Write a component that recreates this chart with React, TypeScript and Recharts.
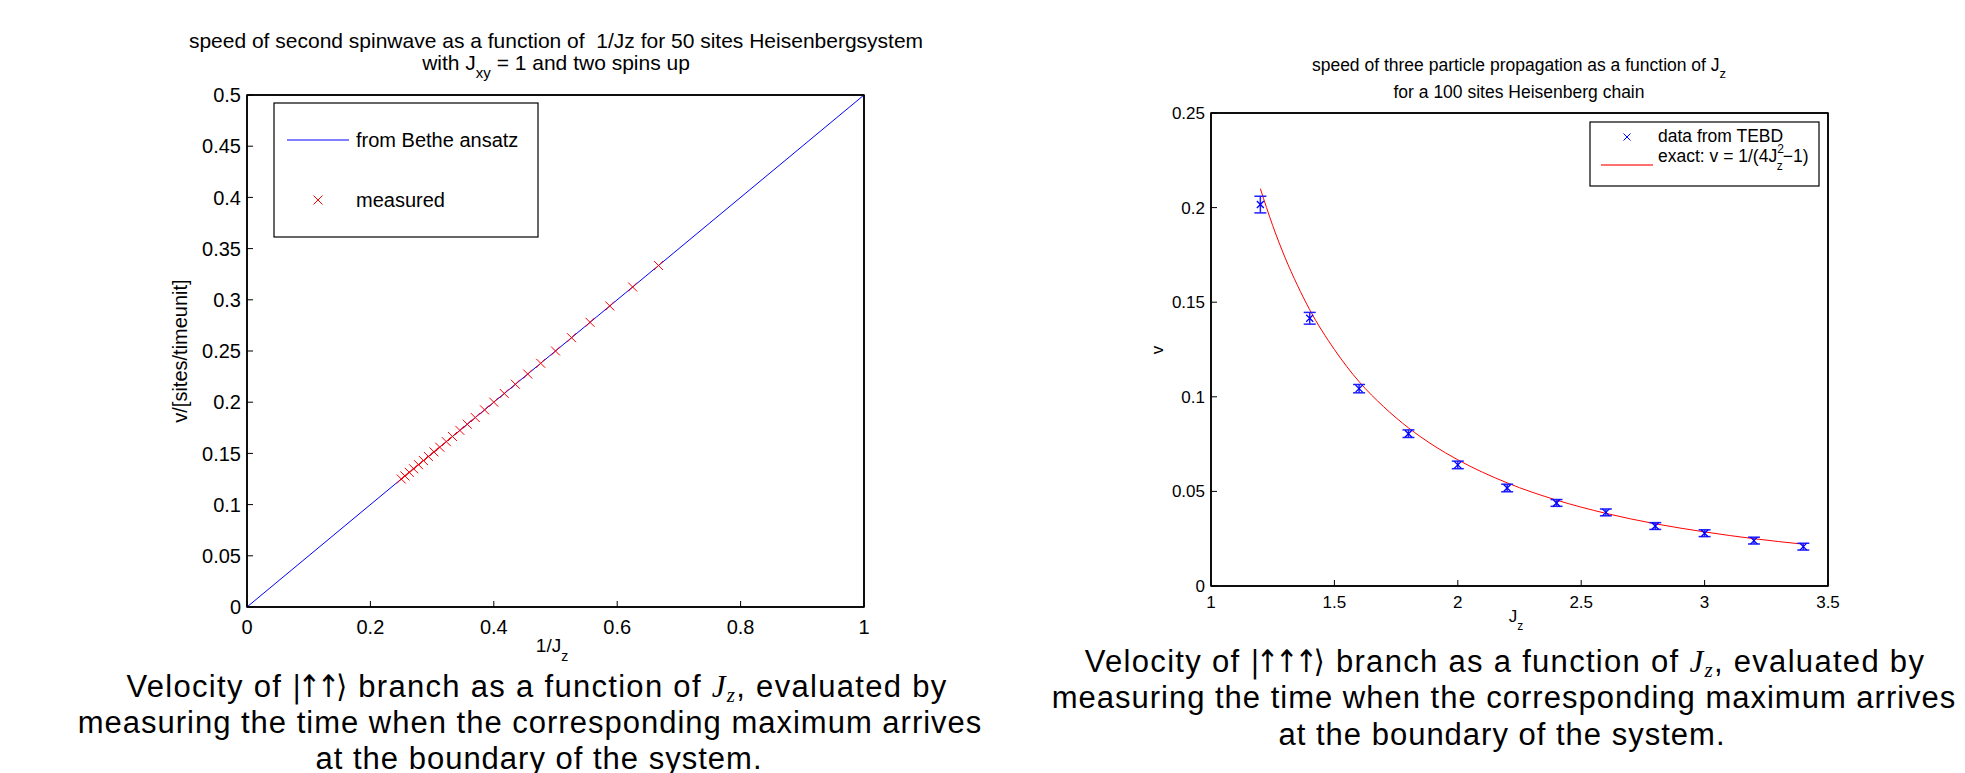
import { ComposedChart, Line, Scatter, XAxis, YAxis, ErrorBar, ReferenceArea } from 'recharts';

const FONT = '"Liberation Sans", Arial, Helvetica, sans-serif';
const SERIF = '"Liberation Serif", "DejaVu Serif", serif';
const ARROWS = '"DejaVu Sans Condensed", "DejaVu Sans", sans-serif';

// left chart: speed of second spinwave vs 1/Jz
const leftXTicks = [0, 0.2, 0.4, 0.6, 0.8, 1];
const leftYTicks = [0, 0.05, 0.1, 0.15, 0.2, 0.25, 0.3, 0.35, 0.4, 0.45, 0.5];
const betheX = [0, 1];
const betheV = [0, 0.5];
const measuredX = [
  0.25, 0.256, 0.263, 0.27, 0.278, 0.286, 0.294, 0.303, 0.3125, 0.323, 0.333, 0.345, 0.357,
  0.37, 0.385, 0.4, 0.417, 0.435, 0.455, 0.476, 0.5, 0.526, 0.556, 0.588, 0.625, 0.667,
];
const measuredV = [
  0.125, 0.128, 0.1315, 0.135, 0.139, 0.143, 0.147, 0.1515, 0.156, 0.1615, 0.1665, 0.1725, 0.1785,
  0.185, 0.1925, 0.2, 0.2085, 0.2175, 0.2275, 0.238, 0.25, 0.263, 0.278, 0.294, 0.3125, 0.3335,
];

// right chart: three particle propagation vs Jz
const rightXTicks = [1, 1.5, 2, 2.5, 3, 3.5];
const rightYTicks = [0, 0.05, 0.1, 0.15, 0.2, 0.25];
const tebdJz = [1.2, 1.4, 1.6, 1.8, 2.0, 2.2, 2.4, 2.6, 2.8, 3.0, 3.2, 3.4];
const tebdV = [0.2016, 0.1415, 0.1043, 0.0805, 0.064, 0.0518, 0.0439, 0.0389, 0.0317, 0.0279, 0.024, 0.0208];
const tebdErr = [0.0044, 0.0031, 0.0022, 0.002, 0.002, 0.002, 0.0018, 0.0018, 0.0018, 0.0018, 0.0018, 0.0018];
const exactJz = [1.2, 1.25, 1.3, 1.35, 1.4, 1.5, 1.6, 1.7, 1.8, 1.9, 2.0, 2.2, 2.4, 2.6, 2.8, 3.0, 3.2, 3.4];
const exactV = [
  0.21, 0.1905, 0.1736, 0.159, 0.146, 0.125, 0.108, 0.0947, 0.0836, 0.0744, 0.0667, 0.0545, 0.0454,
  0.0384, 0.0329, 0.0286, 0.025, 0.0221,
];

const betheData = betheX.map((x, i) => ({ x, v: betheV[i] }));
const measuredData = measuredX.map((x, i) => ({ x, v: measuredV[i] }));
const tebdData = tebdJz.map((x, i) => ({ x, v: tebdV[i], err: tebdErr[i] }));
const exactData = exactJz.map((x, i) => ({ x, v: exactV[i] }));

const frame = { stroke: '#000', strokeWidth: 1.5 };
const tickLine = { stroke: '#000', strokeWidth: 1 };

const cross = (half: number, color: string, w = 1) => (props: any) => {
  const { cx, cy } = props;
  if (cx == null || cy == null) return <g />;
  return (
    <path
      d={`M${cx - half},${cy - half}L${cx + half},${cy + half}M${cx - half},${cy + half}L${cx + half},${cy - half}`}
      stroke={color}
      strokeWidth={w}
      fill="none"
    />
  );
};

const LeftChart = () => {
  const tick = { fill: '#000', fontSize: 20, fontFamily: FONT };
  return (
    <ComposedChart width={960} height={660} margin={{ top: 94, right: 95, bottom: 23, left: 187 }}>
      <XAxis type="number" dataKey="x" domain={[0, 1]} ticks={leftXTicks} interval={0} allowDataOverflow
        height={30} tickSize={-6} tickMargin={19} axisLine={frame} tickLine={tickLine} tick={tick} />
      <XAxis xAxisId="top" orientation="top" type="number" dataKey="x" domain={[0, 1]} ticks={leftXTicks} interval={0}
        allowDataOverflow height={1} tickSize={-6} axisLine={frame} tickLine={tickLine} tick={false} />
      <YAxis type="number" domain={[0, 0.5]} ticks={leftYTicks} interval={0} allowDataOverflow
        width={60} tickSize={-6} tickMargin={12} axisLine={frame} tickLine={tickLine} tick={tick} />
      <YAxis yAxisId="right" orientation="right" type="number" domain={[0, 0.5]} ticks={leftYTicks} interval={0}
        allowDataOverflow width={1} tickSize={-6} axisLine={frame} tickLine={tickLine} tick={false} />
      <ReferenceArea x1={0} x2={1} y1={0} y2={0.5} fill="none" stroke="#000" strokeWidth={1.5} ifOverflow="visible" />
      {/* invisible series so the framing axes on top and right get drawn */}
      <Line data={betheData} dataKey="v" xAxisId="top" yAxisId="right" stroke="none" dot={false}
        isAnimationActive={false} />
      <Line data={betheData} dataKey="v" type="linear" stroke="#0000ff" strokeWidth={1} dot={false}
        isAnimationActive={false} />
      <Scatter data={measuredData} dataKey="v" shape={cross(4.5, '#ff0000')} isAnimationActive={false} />
    </ComposedChart>
  );
};

const RightChart = () => {
  const tick = { fill: '#000', fontSize: 17, fontFamily: FONT };
  return (
    <ComposedChart width={985} height={660} margin={{ top: 112, right: 136, bottom: 44, left: 171 }}>
      <XAxis type="number" dataKey="x" domain={[1, 3.5]} ticks={rightXTicks} interval={0} allowDataOverflow
        height={30} tickSize={-6} tickMargin={16} axisLine={frame} tickLine={tickLine} tick={tick} />
      <XAxis xAxisId="top" orientation="top" type="number" dataKey="x" domain={[1, 3.5]} ticks={rightXTicks} interval={0}
        allowDataOverflow height={1} tickSize={-6} axisLine={frame} tickLine={tickLine} tick={false} />
      <YAxis type="number" domain={[0, 0.25]} ticks={rightYTicks} interval={0} allowDataOverflow
        width={60} tickSize={-6} tickMargin={12} axisLine={frame} tickLine={tickLine} tick={tick} />
      <YAxis yAxisId="right" orientation="right" type="number" domain={[0, 0.25]} ticks={rightYTicks} interval={0}
        allowDataOverflow width={1} tickSize={-6} axisLine={frame} tickLine={tickLine} tick={false} />
      <ReferenceArea x1={1} x2={3.5} y1={0} y2={0.25} fill="none" stroke="#000" strokeWidth={1.5} ifOverflow="visible" />
      <Line data={exactData} dataKey="v" xAxisId="top" yAxisId="right" stroke="none" dot={false}
        isAnimationActive={false} />
      <Line data={exactData} dataKey="v" type="monotone" stroke="#ff0000" strokeWidth={1} dot={false}
        isAnimationActive={false} />
      <Scatter data={tebdData} dataKey="v" shape={cross(3.5, '#0000ff', 1.3)} isAnimationActive={false}>
        <ErrorBar dataKey="err" direction="y" width={6} stroke="#2020ff" strokeWidth={1.5} isAnimationActive={false} />
      </Scatter>
    </ComposedChart>
  );
};

const Overlay = () => (
  <svg width={1965} height={773} style={{ position: 'absolute', left: 0, top: 0, pointerEvents: 'none' }}
    fontFamily={FONT} fill="#000">
    {/* left title */}
    <text x={556} y={48} fontSize={21} textAnchor="middle" xmlSpace="preserve">
      speed of second spinwave as a function of  1/Jz for 50 sites Heisenbergsystem
    </text>
    <text x={556} y={70} fontSize={21} textAnchor="middle">
      with J<tspan fontSize={15} dy={8}>xy</tspan><tspan dy={-8}> = 1 and two spins up</tspan>
    </text>
    {/* left legend */}
    <rect x={274} y={103} width={264} height={134} fill="#fff" stroke="#000" strokeWidth={1.2} />
    <line x1={287} x2={349} y1={140} y2={140} stroke="#0000ff" strokeWidth={1} />
    <text x={356} y={147} fontSize={20}>from Bethe ansatz</text>
    <path d="M313.5,195.5L322.5,204.5M313.5,204.5L322.5,195.5" stroke="#ff0000" strokeWidth={1} />
    <text x={356} y={207} fontSize={20}>measured</text>
    {/* left axis labels */}
    <text x={180} y={351} fontSize={20} textAnchor="middle" dominantBaseline="central" transform="rotate(-90 180 351)">
      v/[sites/timeunit]
    </text>
    <text x={552} y={652} fontSize={19} textAnchor="middle">
      1/J<tspan fontSize={14} dy={9}>z</tspan>
    </text>

    {/* right title */}
    <text x={1519} y={71} fontSize={17.5} textAnchor="middle">
      speed of three particle propagation as a function of J<tspan fontSize={13} dy={7}>z</tspan>
    </text>
    <text x={1519} y={98} fontSize={17.5} textAnchor="middle">for a 100 sites Heisenberg chain</text>
    {/* right legend */}
    <rect x={1590} y={122} width={229} height={64} fill="#fff" stroke="#000" strokeWidth={1.2} />
    <path d="M1623.5,133.5L1630.5,140.5M1623.5,140.5L1630.5,133.5" stroke="#0000ff" strokeWidth={1} />
    <text x={1658} y={142} fontSize={17.5}>data from TEBD</text>
    <line x1={1601} x2={1653} y1={165} y2={165} stroke="#ff7070" strokeWidth={2} />
    <text x={1658} y={162} fontSize={17.5}>
      exact: v = 1/(4J<tspan fontSize={12} dy={-9}>2</tspan><tspan fontSize={12} dx={-7} dy={17}>z</tspan>
      <tspan fontSize={17.5} dy={-8}>−1)</tspan>
    </text>
    {/* right axis labels */}
    <text x={1157} y={350} fontSize={17} textAnchor="middle" dominantBaseline="central" transform="rotate(-90 1157 350)">
      v
    </text>
    <text x={1516} y={622} fontSize={17} textAnchor="middle">
      J<tspan fontSize={12} dy={8}>z</tspan>
    </text>

    {/* captions */}
    <g fontSize={31} letterSpacing={1} textAnchor="middle">
      <text x={537} y={697} letterSpacing={1.3}>
        Velocity of <tspan fontFamily={ARROWS} letterSpacing={-4}>|↑↑</tspan><tspan fontFamily={ARROWS}>⟩</tspan> branch as a function of <tspan fontFamily={SERIF} fontStyle="italic">J</tspan><tspan fontFamily={SERIF} fontStyle="italic" fontSize={21} dy={5}>z</tspan><tspan dy={-5}>, evaluated by</tspan>
      </text>
      <text x={530} y={733}>measuring the time when the corresponding maximum arrives</text>
      <text x={539} y={769}>at the boundary of the system.</text>
      <text x={1505} y={672} letterSpacing={1.3}>
        Velocity of <tspan fontFamily={ARROWS} letterSpacing={-4}>|↑↑↑</tspan><tspan fontFamily={ARROWS}>⟩</tspan> branch as a function of <tspan fontFamily={SERIF} fontStyle="italic">J</tspan><tspan fontFamily={SERIF} fontStyle="italic" fontSize={21} dy={5}>z</tspan><tspan dy={-5}>, evaluated by</tspan>
      </text>
      <text x={1504} y={708}>measuring the time when the corresponding maximum arrives</text>
      <text x={1502} y={745}>at the boundary of the system.</text>
    </g>
  </svg>
);

export default function App() {
  return (
    <div style={{ position: 'absolute', left: 0, top: 0, width: 1965, height: 773, overflow: 'hidden', background: '#fff' }}>
      <div style={{ position: 'absolute', left: 0, top: 0 }}>
        <LeftChart />
      </div>
      <div style={{ position: 'absolute', left: 980, top: 0 }}>
        <RightChart />
      </div>
      <Overlay />
    </div>
  );
}
